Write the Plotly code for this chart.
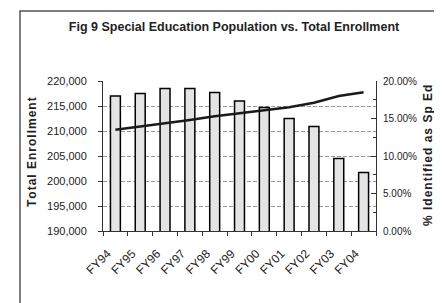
import plotly.graph_objects as go

years = ["FY94", "FY95", "FY96", "FY97", "FY98", "FY99", "FY00", "FY01", "FY02", "FY03", "FY04"]
enrollment = [217000, 217500, 218500, 218500, 217700, 216000, 214700, 212500, 210900, 204500, 201700]
pct_sped = [0.135, 0.139, 0.144, 0.148, 0.153, 0.157, 0.160, 0.165, 0.171, 0.180, 0.185]

FONT = "Liberation Sans, Arial, sans-serif"
HS = "\u200a"

def spaced(s, sep):
    return sep.join(list(s))

fig = go.Figure()
fig.add_trace(go.Bar(
    x=years, y=enrollment, name="Total Enrollment",
    marker=dict(color="#e4e4e4", line=dict(color="black", width=1.5)),
    yaxis="y",
))
fig.add_trace(go.Scatter(
    x=years, y=pct_sped, name="% Identified as Sp Ed", mode="lines",
    line=dict(color="#1a1a1a", width=2.5), yaxis="y2",
))

fig.update_layout(
    width=442, height=303,
    margin=dict(l=95, r=74, t=73, b=80, autoexpand=False),
    paper_bgcolor="white", plot_bgcolor="white",
    showlegend=False, bargap=0.6,
    font=dict(family=FONT, size=12, color="#222"),
    title=dict(text="<b>Fig 9 Special Education Population vs. Total Enrollment</b>",
               x=0.48, xref="paper", y=1 - 19 / 303, yref="container",
               xanchor="center", yanchor="middle",
               font=dict(size=12.5, family=FONT, color="#222")),
    xaxis=dict(
        type="category", tickangle=-45, ticks="outside", tickson="boundaries",
        ticklen=4, tickcolor="#333", showline=True, linecolor="#333", linewidth=1,
        showgrid=False, tickfont=dict(size=12), ticklabelstandoff=10,
        ticklabelshift=-8,
    ),
    yaxis=dict(
        range=[190000, 220000], dtick=5000, tickformat=",",
        ticks="outside", ticklen=4, tickcolor="#333",
        showline=True, linecolor="#333", linewidth=1,
        showgrid=True, gridcolor="#999", griddash="4px,2px", gridwidth=1,
        ticklabelstandoff=9, tickfont=dict(size=11),
        zeroline=False,
    ),
    yaxis2=dict(
        range=[0, 0.20], dtick=0.05, tickformat=".2%", overlaying="y", side="right",
        ticks="inside", ticklen=5, tickcolor="#333",
        minor=dict(ticks="inside", ticklen=3, dtick=0.025, tickcolor="#333"),
        showline=True, linecolor="#333", linewidth=1, showgrid=False,
        ticklabelstandoff=4, tickfont=dict(size=10),
        zeroline=False,
    ),
)

# axis titles
fig.add_annotation(text="<b>" + spaced("Total Enrollment", HS) + "</b>",
                   xref="paper", yref="paper", x=(24 - 95) / 273, y=(223 - 144) / 150,
                   textangle=-90, showarrow=False, xanchor="center", yanchor="middle",
                   font=dict(size=12, family=FONT, color="#222"))
fig.add_annotation(text="<b>" + spaced("% Identified as Sp Ed", HS) + "</b>",
                   xref="paper", yref="paper", x=(420 - 95) / 273, y=(223 - 148) / 150,
                   textangle=-90, showarrow=False, xanchor="center", yanchor="middle",
                   font=dict(size=12, family=FONT, color="#222"))

# outer chart border
fig.add_shape(type="rect", xref="paper", yref="paper",
              x0=-0.304, x1=1.29, y0=-0.5, y1=1.467,
              line=dict(color="#555", width=1.5), fillcolor="rgba(0,0,0,0)", layer="below")

fig.write_html("out.html")
